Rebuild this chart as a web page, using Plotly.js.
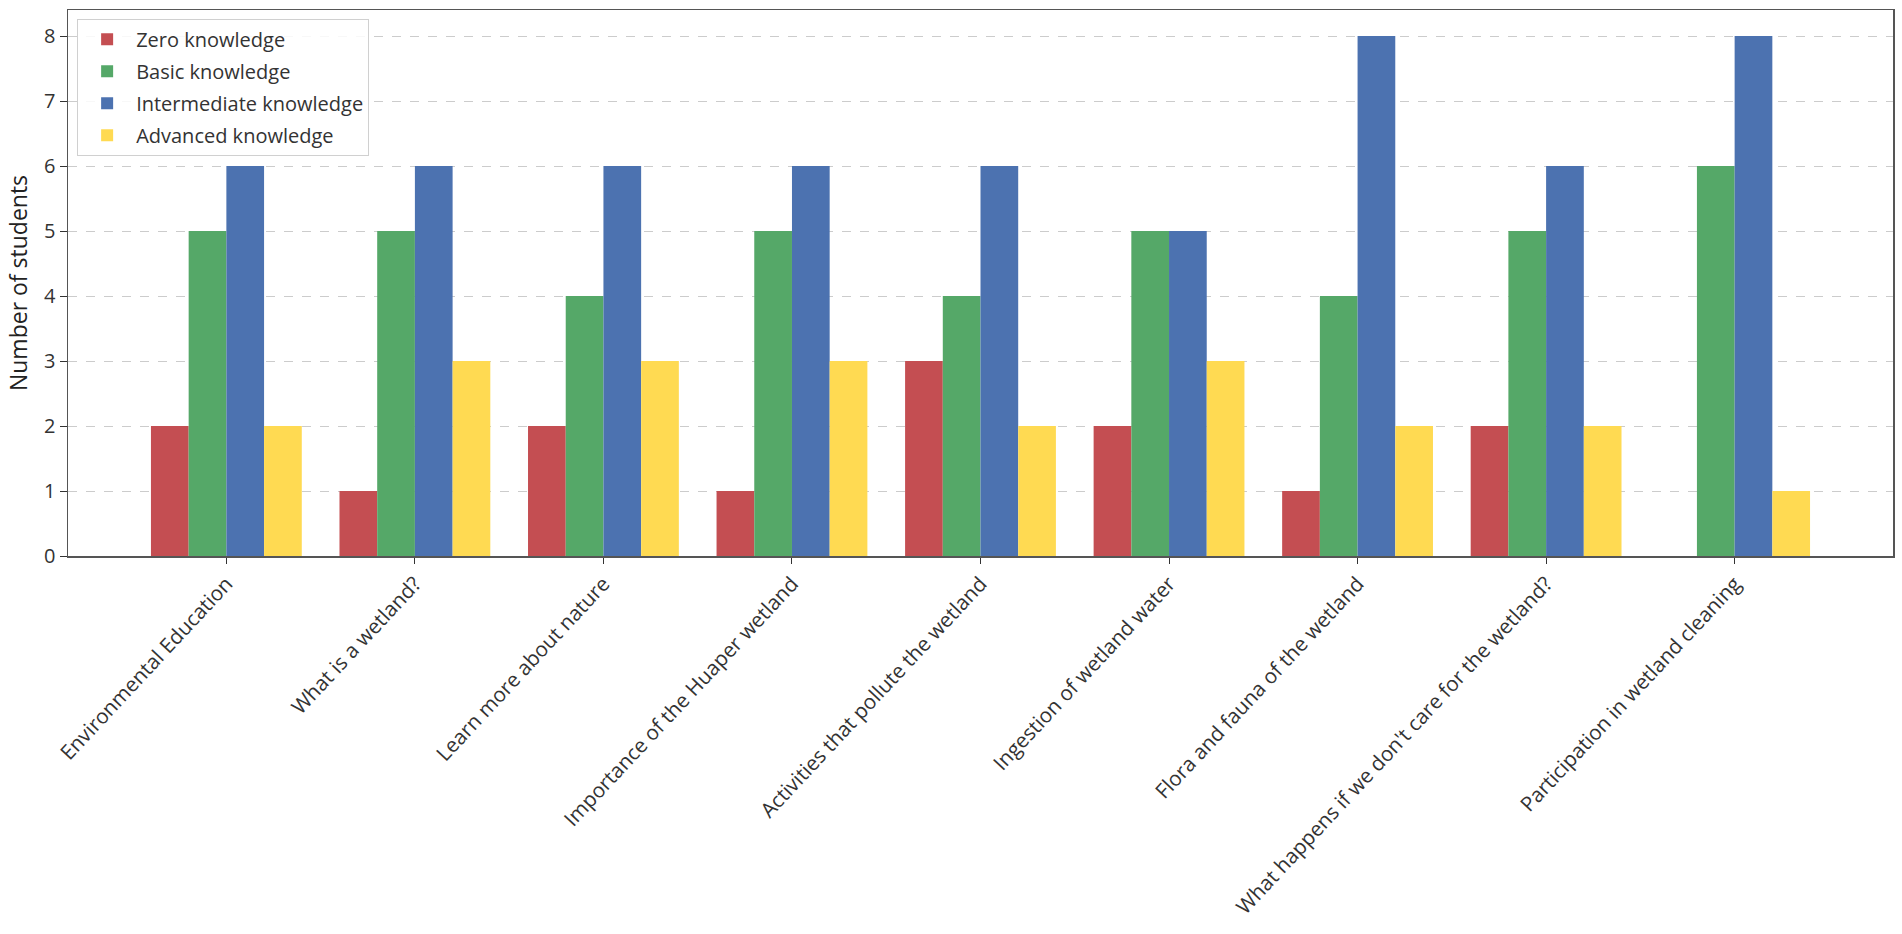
<!DOCTYPE html>
<html>
<head>
<meta charset="utf-8">
<script src="https://cdn.plot.ly/plotly-3.0.1.min.js"></script>
<style>
  html, body { margin: 0; padding: 0; background: #fff; }
  #graph { width: 1902px; height: 934px; }
</style>
</head>
<body>
<div id="graph"></div>
<script>
// topics asked in the survey
var topics = [
  "Environmental Education",
  "What is a wetland?",
  "Learn more about nature",
  "Importance of the Huaper wetland",
  "Activities that pollute the wetland",
  "Ingestion of wetland water",
  "Flora and fauna of the wetland",
  "What happens if we don't care for the wetland?",
  "Participation in wetland cleaning"
]

var zero = [2, 1, 2, 1, 3, 2, 1, 2, 0]
var basic = [5, 5, 4, 5, 4, 5, 4, 5, 6]
var intermediate = [6, 6, 6, 6, 6, 5, 8, 6, 8]
var advanced = [2, 3, 3, 3, 2, 3, 2, 2, 1]

var levelNames = ["Zero knowledge", "Basic knowledge", "Intermediate knowledge", "Advanced knowledge"]
var colors = ["#C44E52", "#55A868", "#4C72B0", "#FFDA52"]

var font = "Open Sans, DejaVu Sans, sans-serif"
var x = topics.map(function(t, i){ return i })

var graphData = []
var series = [zero, basic, intermediate, advanced]
for (var i = 0; i < series.length; i++) {
    graphData.push({
        x: x,
        y: series[i],
        type: "bar",
        name: levelNames[i],
        legendgroup: "g" + i,
        marker: {color: colors[i], line: {width: 0}}
    })
}

var layout = {
    width: 1902,
    height: 934,
    margin: {l: 68, r: 9, t: 10, b: 378},
    paper_bgcolor: "#fff",
    plot_bgcolor: "#fff",
    barmode: "group",
    bargap: 0.2,
    bargroupgap: 0,
    font: {family: font, size: 20, color: "#333"},
    showlegend: true,
    legend: {
        x: 0.005, y: 0.984, xanchor: "left", yanchor: "top",
        bgcolor: "rgba(255,255,255,0.85)",
        bordercolor: "#d0d0d0", borderwidth: 1,
        font: {family: font, size: 20, color: "#333"},
        tracegroupgap: 3,
        itemwidth: 48
    },
    xaxis: {
        range: [-0.84, 8.84],
        tickmode: "array",
        tickvals: x,
        ticktext: topics,
        tickangle: -47,
        ticks: "outside", ticklen: 6, tickcolor: "#333",
        showgrid: false, zeroline: false,
        showline: true, mirror: true, linecolor: "#555", linewidth: 1.5,
        tickfont: {family: font, size: 20.6, color: "#333"}
    },
    yaxis: {
        range: [0, 8.4],
        dtick: 1,
        ticks: "outside", ticklen: 7, tickcolor: "#333",
        showgrid: true, gridcolor: "#cccccc", griddash: "dash", gridwidth: 1,
        zeroline: false,
        showline: true, mirror: true, linecolor: "#555", linewidth: 1.5,
        tickfont: {family: font, size: 20, color: "#333"},
        title: {text: "Number of students", font: {family: font, size: 23, color: "#222"}, standoff: 10}
    }
}

Plotly.newPlot("graph", graphData, layout, {displayModeBar: false, staticPlot: true})
</script>
</body>
</html>
